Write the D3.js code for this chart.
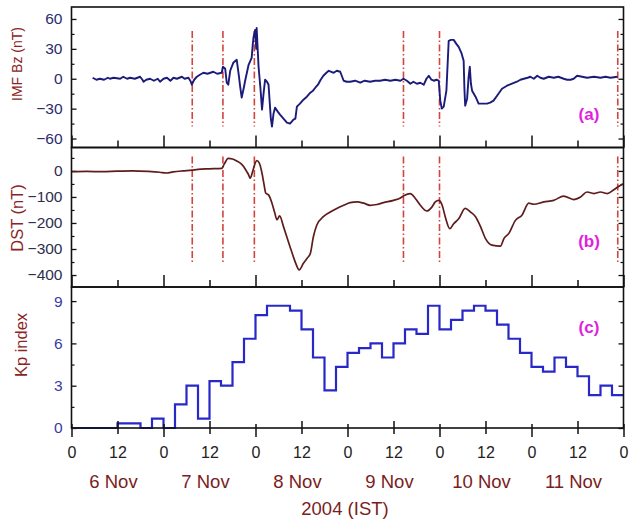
<!DOCTYPE html>
<html><head><meta charset="utf-8">
<script src="https://cdn.jsdelivr.net/npm/d3@7"></script>
<style>
html,body{margin:0;padding:0;background:#fff;}
svg{display:block;font-family:"Liberation Sans",Arial,sans-serif;}
</style></head>
<body>
<svg id="chart" width="631" height="521"></svg>
<script>
// ---------- DATA (time in hours from 6 Nov 2004 00:00 IST) ----------
const bzTime = [5.5,6.5,7.4,8.5,9.5,10.0,11,12.7,13.5,14.5,15.3,16.5,17.9,18.5,18.8,19.5,20.5,21.5,22.5,23.1,24.0,24.9,25.8,26.6,27.5,28.8,29.5,30.5,31.0,31.4,32.0,32.7,33.5,34.4,35.5,37.0,38.0,39.2,39.5,40.1,40.5,40.9,41.4,42.2,43.1,43.6,44.0,44.4,45.0,45.3,46.2,47.0,47.3,47.5,47.9,48.2,48.3,48.8,49.3,49.7,50.1,50.5,51.0,51.4,52.0,52.3,52.7,53.1,53.8,54.4,55.3,56.2,57.0,57.9,58.4,58.8,59.6,60.5,61.4,62.3,63.0,63.6,64.3,65.0,65.7,66.5,67.1,67.8,68.4,69.2,70.1,71.0,71.8,72.7,74.0,75.3,76.5,77.9,79.2,80.5,81.8,83.2,84.5,85.8,86.6,87.5,88.4,89.2,90.1,91.0,91.9,92.6,93.2,93.9,94.5,95.2,95.8,96.2,96.6,97.1,97.8,98.4,99.0,99.7,100.4,101.0,101.7,102.3,102.5,102.7,103.2,103.6,103.9,104.2,104.5,105.4,106.2,107.3,108.4,109.2,110.1,111.2,112.3,113.6,114.9,116.2,117.1,118.0,119.0,119.7,120.6,121.5,122.3,123.2,124.5,125.8,127.0,128.4,129.3,130.2,131.0,131.9,133.2,134.5,136.3,138.0,139.3,140.6,142.4];
const bzValue = [1,-1,0,-1,1,0,1,0,2,0,1,0,2,-1,-3,-1,0,-2,0,-3,0,1,-2,1,0,2,0,1,-2,-6,-1,2,4,6,5,7,5,6,12,10,-4,-6,8,16,19,5,-8,-19,-8,-2,14,21,35,42,49,30,51,12,-10,-31,-15,-1,-3,-6,-40,-48,-35,-29,-33,-36,-40,-44,-45,-41,-40,-28,-25,-21,-18,-14,-12,-9,-6,-1,3,6,8,7,6,8,7,-2,-3,-3,-2,-4,-2,-3,-2,-2,-1,-2,-1,-2,0,-2,-5,-3,-5,-4,-6,0,3,-1,-2,-1,-2,-22,-30,-28,-12,38,39,39,35,32,26,18,-10,-27,-20,2,12,-5,-12,-18,-25,-25,-25,-24,-22,-16,-10,-7,-5,-3,-1,0,1,2,0,3,1,0,2,1,2,0,-1,-1,0,3,2,1,2,1,2,1,2];

const dstTime = [0,4,8,12,16,20,23,24.8,26.5,29,31.4,33,36,39.2,39.8,40.9,42,43.1,44.2,44.9,45.6,46.2,46.6,47.3,47.8,48.3,49.0,49.7,50.2,50.7,51.4,52.3,53.0,53.6,54.3,55.3,56.2,57.0,58.0,58.5,59.4,60.5,61.5,62.3,63.1,64.0,65.7,67.5,69.2,71.0,72.7,74.5,76.2,77.9,79.7,81.4,84.0,85.8,86.8,88.4,89.7,91.0,92.7,94.0,94.9,95.8,96.7,97.5,98.7,99.7,101.0,102.7,104.1,105.4,106.7,108.0,109.7,111.9,112.8,114.1,115.8,117.5,119.3,120.6,123.2,125.8,128.4,131.0,132.8,134.5,136.3,138.0,139.7,141.5,142.8,144.0];
const dstValue = [-3,-2,-3,-1,0,-2,-5,-8,-4,0,3,6,8,10,25,48,46,38,28,17,0,-15,-28,0,25,40,30,-9,-50,-86,-92,-124,-160,-188,-173,-214,-255,-291,-335,-355,-380,-355,-335,-317,-253,-208,-176,-158,-144,-132,-122,-119,-124,-132,-129,-122,-113,-104,-94,-87,-106,-132,-154,-139,-119,-113,-132,-176,-222,-203,-184,-144,-158,-176,-214,-260,-285,-289,-260,-240,-190,-170,-124,-128,-119,-113,-97,-110,-100,-81,-87,-81,-87,-72,-59,-49];

// 3-hourly Kp, 6–11 Nov
const kpValue = [0,0,0,0,0.33,0.33,0,0.67, 0,1.67,3,0.67,3.33,3,4.67,6.33, 8,8.67,8.67,8.33,7,5,2.67,4.33, 5.33,5.67,6,5,6,7,6.67,8.67, 7,7.67,8.33,8.67,8.33,7.33,6.33,5.33, 4.33,4,5,4.33,3.67,2.33,3,2.33];

const eventTimes = [31.5,39.5,47.7,86.6,96.0,142.5];
const dayLabels = ["6 Nov","7 Nov","8 Nov","9 Nov","10 Nov","11 Nov"];
const hourTicks = d3.range(0,145,12);
const bzTicks = [60,30,0,-30,-60];
const dstTicks = [0,-100,-200,-300,-400];
const kpTicks = [0,3,6,9];

// ---------- LAYOUT ----------
const svg = d3.select("#chart");
const X0 = 71.5, X1 = 623.5;
const x = d3.scaleLinear().domain([0,144]).range([X0,X1]);

const panels = [
  {key:"a", top:7,   bottom:147.5, domain:[-69,72],   ticks:bzTicks,  minorStep:15,  title:"IMF Bz (nT)", titleX:16.5, titleY:64,  titleSize:14,   tickColor:"#2b2b6e", label:"(a)", labelY:120},
  {key:"b", top:147.5, bottom:287, domain:[-446,90],  ticks:dstTicks, minorStep:50,  title:"DST (nT)",    titleX:16.5, titleY:218, titleSize:16.5, tickColor:"#2e2e4e", label:"(b)", labelY:247},
  {key:"c", top:287, bottom:428,   domain:[0,10],     ticks:kpTicks,  minorStep:1.5, title:"Kp index",    titleX:21,   titleY:345, titleSize:16.5, tickColor:"#3a3aa6", label:"(c)", labelY:333}
];
panels.forEach(p=>{ p.y = d3.scaleLinear().domain(p.domain).range([p.bottom,p.top]); });

function cleanAxis(g){ g.select(".domain").remove(); }

panels.forEach(p=>{
  const g = svg.append("g");
  const [d0,d1] = p.domain;
  const minorVals = d3.range(Math.ceil(d0/p.minorStep)*p.minorStep, d1+1e-9, p.minorStep)
                      .filter(v=>!p.ticks.some(t=>Math.abs(t-v)<1e-6));
  g.append("g").attr("transform",`translate(${X0},0)`)
    .call(d3.axisLeft(p.y).tickValues(p.ticks).tickSize(-5).tickPadding(9).tickFormat(d3.format("d")))
    .call(cleanAxis)
    .call(a=>{a.selectAll("line").attr("stroke","#111").attr("stroke-width",1.3);
              a.selectAll("text").attr("fill",p.tickColor).attr("font-size",15.5).attr("font-family","Liberation Sans, Arial, sans-serif");});
  g.append("g").attr("transform",`translate(${X0},0)`)
    .call(d3.axisLeft(p.y).tickValues(minorVals).tickSize(-3).tickFormat(""))
    .call(cleanAxis).selectAll("line").attr("stroke","#111").attr("stroke-width",1.2);
  g.append("g").attr("transform",`translate(${X1},0)`)
    .call(d3.axisRight(p.y).tickValues(p.ticks).tickSize(-5).tickFormat(""))
    .call(cleanAxis).selectAll("line").attr("stroke","#111").attr("stroke-width",1.3);
  g.append("g").attr("transform",`translate(${X1},0)`)
    .call(d3.axisRight(p.y).tickValues(minorVals).tickSize(-3).tickFormat(""))
    .call(cleanAxis).selectAll("line").attr("stroke","#111").attr("stroke-width",1.2);
  if(p.key!=="c"){
    g.append("g").attr("transform",`translate(0,${p.bottom})`)
      .call(d3.axisBottom(x).tickValues(hourTicks.filter(h=>h%24===0)).tickSize(-12).tickFormat(""))
      .call(cleanAxis).selectAll("line").attr("stroke","#111").attr("stroke-width",1.5);
    g.append("g").attr("transform",`translate(0,${p.bottom})`)
      .call(d3.axisBottom(x).tickValues(hourTicks.filter(h=>h%24===12)).tickSize(-7).tickFormat(""))
      .call(cleanAxis).selectAll("line").attr("stroke","#111").attr("stroke-width",1.5);
  }
  svg.append("text")
    .attr("transform",`translate(${p.titleX},${p.titleY}) rotate(-90)`)
    .attr("text-anchor","middle").attr("dominant-baseline","central")
    .attr("font-size",p.titleSize).attr("fill","#8b2525").text(p.title);
});

// ---------- EVENT LINES ----------
const evRanges = {a:[48,-48], b:[55,-355]};
["a","b"].forEach(k=>{
  const p = panels.find(q=>q.key===k);
  svg.append("g").selectAll("line").data(eventTimes).join("line")
    .attr("x1",d=>x(d)).attr("x2",d=>x(d))
    .attr("y1",p.y(evRanges[k][0])).attr("y2",p.y(evRanges[k][1]))
    .attr("stroke","#d2443c").attr("stroke-width",1.6)
    .attr("stroke-dasharray","7,2.5,1.5,2.5");
});

// ---------- SERIES ----------
const pa = panels[0], pb = panels[1], pc = panels[2];
const bzData = bzTime.map((t,i)=>[t,bzValue[i]]);
svg.append("path").datum(bzData)
  .attr("fill","none").attr("stroke","#1b1b7a").attr("stroke-width",1.9).attr("stroke-linejoin","round")
  .attr("d", d3.line().x(d=>x(d[0])).y(d=>pa.y(d[1])));

const dstData = dstTime.map((t,i)=>[t,dstValue[i]]);
svg.append("path").datum(dstData)
  .attr("fill","none").attr("stroke","#5e1c1c").attr("stroke-width",1.7).attr("stroke-linejoin","round")
  .attr("d", d3.line().x(d=>x(d[0])).y(d=>pb.y(d[1])).curve(d3.curveMonotoneX));

const kpData = kpValue.map((v,i)=>[i*3,v]).concat([[144,kpValue[kpValue.length-1]]]);
svg.append("path").datum(kpData)
  .attr("fill","none").attr("stroke","#2828c8").attr("stroke-width",2.2)
  .attr("d", d3.line().x(d=>x(d[0])).y(d=>pc.y(d[1])).curve(d3.curveStepAfter));

// ---------- FRAMES ----------
panels.forEach(p=>{
  svg.append("rect").attr("x",X0).attr("y",p.top).attr("width",X1-X0).attr("height",p.bottom-p.top)
    .attr("fill","none").attr("stroke","#111").attr("stroke-width",1.6);
  svg.append("text").attr("x",589).attr("y",p.labelY).attr("text-anchor","middle")
    .attr("font-size",17).attr("font-weight","bold").attr("fill","#e21de2").text(p.label);
});

// ---------- BOTTOM X AXIS ----------
const xb = svg.append("g").attr("transform",`translate(0,${pc.bottom})`);
xb.append("g").call(d3.axisBottom(x).tickValues(hourTicks.filter(h=>h%24===0)).tickSize(9).tickFormat(""))
  .call(cleanAxis).selectAll("line").attr("stroke","#111").attr("stroke-width",1.5);
xb.append("g").call(d3.axisBottom(x).tickValues(hourTicks.filter(h=>h%24===0)).tickSize(-4).tickFormat(""))
  .call(cleanAxis).selectAll("line").attr("stroke","#111").attr("stroke-width",1.5);
xb.append("g").call(d3.axisBottom(x).tickValues(hourTicks.filter(h=>h%24===12)).tickSize(6).tickFormat(""))
  .call(cleanAxis).selectAll("line").attr("stroke","#111").attr("stroke-width",1.5);
xb.append("g").call(d3.axisBottom(x).tickValues(hourTicks.filter(h=>h%24===12)).tickSize(-7).tickFormat(""))
  .call(cleanAxis).selectAll("line").attr("stroke","#111").attr("stroke-width",1.5);
xb.append("g").call(d3.axisBottom(x).tickValues(hourTicks).tickSize(0).tickPadding(19).tickFormat(d=>d%24))
  .call(cleanAxis)
  .call(a=>a.selectAll("text").attr("fill","#222").attr("font-size",16).attr("font-family","Liberation Sans, Arial, sans-serif"));

const dayCenters = dayLabels.map((d,i)=>i*24+12);
svg.append("g").selectAll("text").data(dayLabels).join("text")
  .attr("x",(d,i)=>x(dayCenters[i])-4).attr("y",488)
  .attr("text-anchor","middle").attr("font-size",18.5).attr("fill","#7a1d1d").text(d=>d);
svg.append("text").attr("x",345).attr("y",515).attr("text-anchor","middle")
  .attr("font-size",18.5).attr("fill","#7a1d1d").text("2004 (IST)");
</script>
</body></html>
